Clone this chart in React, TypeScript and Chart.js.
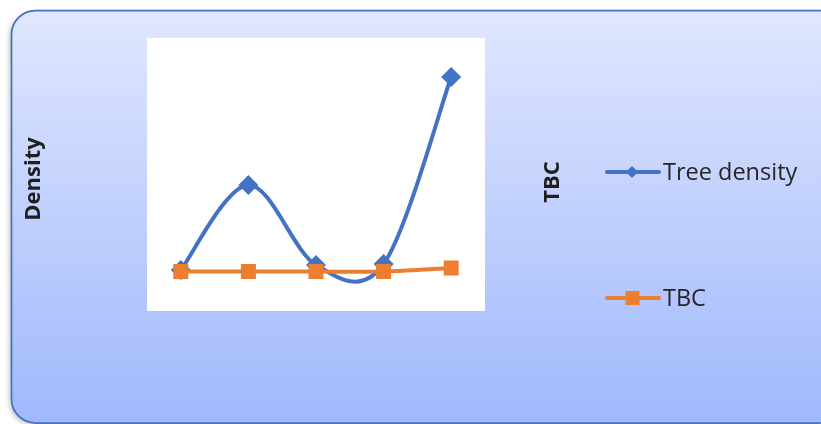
import React, { useEffect, useRef } from "react";
import { Chart, registerables } from "chart.js";

Chart.register(...registerables);

const categories = ["1", "2", "3", "4", "5"];
const treeDensity = [41, 126, 46, 47, 234];
const tbc = [39.5, 39.5, 39.5, 39.5, 43];
const seriesNames = ["Tree density", "TBC"];
const yTitle = "Density";
const y2Title = "TBC";

const BLUE = "#4472C4";
const ORANGE = "#ED7D31";
const FONT = "'Open Sans', 'Noto Sans', sans-serif";

// Excel-style smoothing (Catmull-Rom, 1/6 of neighbour span)
const smoothPlugin = {
  id: "excelSmooth",
  beforeDatasetDraw(chart: any, args: any) {
    const meta = chart.getDatasetMeta(args.index);
    const line = meta.dataset;
    if (line && line.updateControlPoints) line.updateControlPoints(chart.chartArea, "x");
    const pts = meta.data;
    const n = pts.length;
    for (let i = 0; i < n; i++) {
      const p = pts[i];
      const prev = pts[Math.max(0, i - 1)];
      const next = pts[Math.min(n - 1, i + 1)];
      const dx = (next.x - prev.x) / 6;
      const dy = (next.y - prev.y) / 6;
      p.cp1x = p.x - dx;
      p.cp1y = p.y - dy;
      p.cp2x = p.x + dx;
      p.cp2y = p.y + dy;
    }
  },
};

const decorPlugin = {
  id: "decor",
  beforeDraw(chart: any) {
    const ctx = chart.ctx as CanvasRenderingContext2D;
    const { left, top, right, bottom } = chart.chartArea;
    ctx.save();
    const fx = 11.5, fy = 10.5, fw = 830, fh = 412.5, r = 24;
    ctx.beginPath();
    ctx.moveTo(fx + r, fy);
    ctx.lineTo(fx + fw - r, fy);
    ctx.arcTo(fx + fw, fy, fx + fw, fy + r, r);
    ctx.lineTo(fx + fw, fy + fh - r);
    ctx.arcTo(fx + fw, fy + fh, fx + fw - r, fy + fh, r);
    ctx.lineTo(fx + r, fy + fh);
    ctx.arcTo(fx, fy + fh, fx, fy + fh - r, r);
    ctx.lineTo(fx, fy + r);
    ctx.arcTo(fx, fy, fx + r, fy, r);
    ctx.closePath();
    ctx.shadowColor = "rgba(0,0,0,0.25)";
    ctx.shadowBlur = 5;
    ctx.shadowOffsetX = -2;
    ctx.shadowOffsetY = 2;
    const g = ctx.createLinearGradient(0, fy, 0, fy + fh);
    g.addColorStop(0, "#E0E7FE");
    g.addColorStop(1, "#A0B8FC");
    ctx.fillStyle = g;
    ctx.fill();
    ctx.shadowColor = "transparent";
    ctx.lineWidth = 1.75;
    ctx.strokeStyle = BLUE;
    ctx.stroke();
    ctx.fillStyle = "#FFFFFF";
    ctx.fillRect(left, top, right - left, bottom - top);
    // axis titles
    ctx.fillStyle = "#1F1F1F";
    ctx.font = `bold 22px ${FONT}`;
    ctx.textAlign = "center";
    ctx.textBaseline = "middle";
    ctx.save();
    ctx.translate(34, 179);
    ctx.rotate(-Math.PI / 2);
    ctx.fillText(yTitle, 0, 0);
    ctx.restore();
    ctx.save();
    ctx.translate(553, 182);
    ctx.rotate(-Math.PI / 2);
    ctx.fillText(y2Title, 0, 0);
    ctx.restore();
    // legend
    const items = [
      { y: 172, color: BLUE, style: "diamond", label: seriesNames[0] },
      { y: 298, color: ORANGE, style: "square", label: seriesNames[1] },
    ];
    for (const it of items) {
      ctx.strokeStyle = it.color;
      ctx.lineWidth = 4;
      ctx.lineCap = "round";
      ctx.beginPath();
      ctx.moveTo(607, it.y);
      ctx.lineTo(659, it.y);
      ctx.stroke();
      ctx.fillStyle = it.color;
      ctx.beginPath();
      if (it.style === "diamond") {
        ctx.moveTo(632, it.y - 6);
        ctx.lineTo(638, it.y);
        ctx.lineTo(632, it.y + 6);
        ctx.lineTo(626, it.y);
        ctx.closePath();
      } else {
        ctx.rect(625.5, it.y - 7, 14, 14);
      }
      ctx.fill();
      ctx.fillStyle = "#262626";
      ctx.font = `23.5px ${FONT}`;
      ctx.textAlign = "left";
      ctx.fillText(it.label, 663, it.y + 1);
    }
    ctx.restore();
  },
};

export default function App() {
  const ref = useRef<HTMLCanvasElement>(null);
  useEffect(() => {
    const chart = new Chart(ref.current!, {
      type: "line",
      data: {
        labels: categories,
        datasets: [
          {
            label: seriesNames[0],
            data: treeDensity,
            order: 2,
            borderColor: BLUE,
            backgroundColor: BLUE,
            borderWidth: 4,
            tension: 0.3,
            pointStyle: "rectRot",
            pointRadius: 10,
            pointBorderWidth: 0,
          },
          {
            label: seriesNames[1],
            data: tbc,
            order: 1,
            borderColor: ORANGE,
            backgroundColor: ORANGE,
            borderWidth: 4,
            tension: 0.3,
            pointStyle: "rect",
            pointRadius: 10.6,
            pointBorderWidth: 0,
          },
        ],
      },
      options: {
        animation: false,
        responsive: false,
        layout: { padding: { left: 147, top: 38, right: 336, bottom: 113 } },
        plugins: { legend: { display: false }, tooltip: { enabled: false } },
        elements: { line: { capBezierPoints: false } },
        scales: {
          x: { display: false, offset: true },
          y: { display: false, min: 0, max: 273 },
        },
      },
      plugins: [decorPlugin, smoothPlugin],
    });
    return () => chart.destroy();
  }, []);
  return (
    <div style={{ position: "fixed", left: 0, top: 0, width: 821, height: 424 }}>
      <canvas ref={ref} width={821} height={424} style={{ display: "block" }} />
    </div>
  );
}
